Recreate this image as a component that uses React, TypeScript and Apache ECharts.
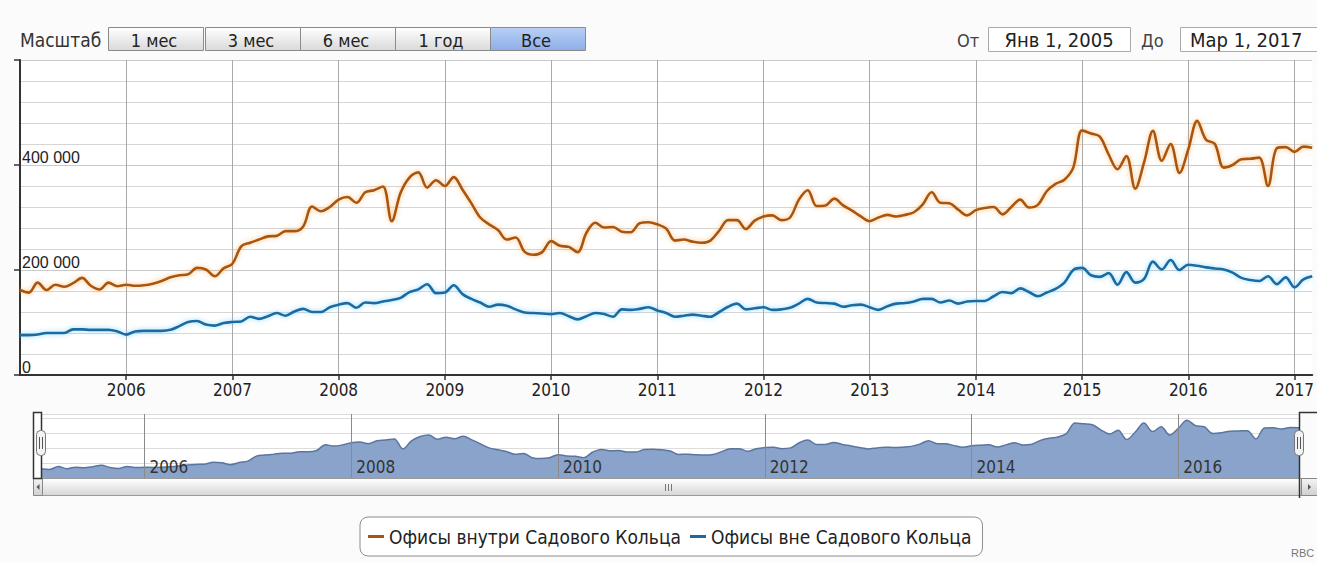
import React, { useEffect, useRef } from 'react';
import * as echarts from 'echarts';

// ---------- DATA ----------
const NAME_IN = 'Офисы внутри Садового Кольца';
const NAME_OUT = 'Офисы вне Садового Кольца';

// monthly categories Jan 2005 .. Mar 2017
const months: string[] = [];
for (let y = 2005; y <= 2017; y++) {
  for (let m = 1; m <= 12; m++) {
    if (y === 2017 && m > 3) break;
    months.push(`${y}-${m < 10 ? '0' + m : m}`);
  }
}

const yearTicks = ['2006', '2007', '2008', '2009', '2010', '2011', '2012', '2013', '2014', '2015', '2016', '2017'];
const navYearTicks = ['2006', '2008', '2010', '2012', '2014', '2016'];
const rangeButtons = ['1 мес', '3 мес', '6 мес', '1 год', 'Все'];

// values in thousands
const inside = [
  162, 157, 176, 162, 172, 168, 175, 185, 170, 163, 176, 169,
  172, 170, 171, 174, 179, 186, 190, 192, 204, 201, 188, 203,
  212, 245, 252, 258, 264, 265, 274, 274, 283, 321, 312, 320,
  334, 339, 328, 348, 352, 359, 293, 347, 376, 386, 357, 371,
  360, 377, 353, 327, 300, 287, 276, 258, 262, 235, 229, 234,
  255, 246, 244, 234, 271, 290, 281, 282, 273, 272, 289, 291,
  287, 279, 256, 258, 254, 252, 256, 275, 295, 295, 278, 294,
  302, 304, 295, 300, 334, 352, 322, 323, 336, 323, 313, 302,
  293, 300, 305, 302, 305, 310, 325, 348, 328, 327, 315, 304,
  314, 318, 320, 306, 320, 334, 319, 324, 350, 364, 372, 395,
  466, 460, 454, 420, 392, 417, 355, 405, 465, 408, 440, 385,
  430, 484, 448, 440, 395, 400, 411, 412, 414, 360, 432, 434,
  425, 435, 433,
];

const outside = [
  76, 76, 77, 80, 80, 80, 87, 87, 86, 86, 86, 83,
  77, 83, 84, 84, 84, 86, 93, 101, 103, 96, 94, 99,
  101, 102, 111, 107, 112, 118, 113, 121, 126, 120, 120, 129,
  134, 137, 128, 138, 137, 140, 143, 147, 158, 163, 173, 156,
  157, 171, 154, 145, 138, 130, 134, 132, 125, 119, 118, 117,
  116, 118, 112, 106, 112, 118, 116, 111, 125, 124, 126, 129,
  123, 118, 111, 113, 115, 113, 111, 120, 130, 136, 125, 127,
  129, 124, 125, 128, 136, 145, 138, 137, 136, 130, 133, 134,
  129, 124, 131, 136, 137, 140, 145, 145, 138, 142, 136, 140,
  141, 141, 150, 158, 156, 165, 158, 150, 157, 164, 176, 200,
  204, 190, 187, 194, 172, 196, 176, 183, 216, 201, 219, 200,
  210, 208, 205, 203, 201, 195, 185, 181, 179, 188, 173, 186,
  167, 182, 188,
];

// ---------- STYLE ----------
const NARROW = "'Liberation Sans Narrow', 'DejaVu Sans Condensed', 'Arial Narrow', 'Liberation Sans', sans-serif";
const ARIAL = "'Liberation Sans', Arial, sans-serif";
const ORANGE = '#aa550f';
const BLUE = '#1a6a9f';

const isYearTick = (_i: number, v: string) => v.endsWith('-01') && yearTicks.includes(v.slice(0, 4));
const isNavTick = (_i: number, v: string) => v.endsWith('-01') && navYearTicks.includes(v.slice(0, 4));

function buildGraphic() {
  const g: any[] = [];
  const grad = (a: string, b: string) =>
    new echarts.graphic.LinearGradient(0, 0, 0, 1, [
      { offset: 0, color: a },
      { offset: 1, color: b },
    ]);
  // range selector
  g.push({ type: 'text', x: 20, y: 40, style: { text: 'Масштаб', fill: '#333', font: `19px ${NARROW}`, verticalAlign: 'middle' } });
  const bx = [108, 205, 300, 395, 490];
  rangeButtons.forEach((t, i) => {
    const sel = i === rangeButtons.length - 1;
    g.push({
      type: 'rect',
      shape: { x: bx[i] + 0.5, y: 27.5, width: 95, height: 23 },
      style: { fill: sel ? grad('#b9d0f6', '#8eaee8') : grad('#ffffff', '#d9d9d9'), stroke: '#8a8a8a', lineWidth: 1 },
    });
    g.push({
      type: 'text',
      x: bx[i] + 46,
      y: 40,
      style: { text: t, fill: '#222', font: `18px ${NARROW}`, align: 'center', verticalAlign: 'middle' },
    });
  });
  // date inputs
  g.push({ type: 'text', x: 957, y: 40, style: { text: 'От', fill: '#444', font: `18px ${NARROW}`, verticalAlign: 'middle' } });
  g.push({ type: 'rect', shape: { x: 988.5, y: 27.5, width: 142, height: 24 }, style: { fill: '#fff', stroke: '#aaa' } });
  g.push({ type: 'text', x: 1059, y: 40, style: { text: 'Янв 1, 2005', fill: '#222', font: `20px ${NARROW}`, align: 'center', verticalAlign: 'middle' } });
  g.push({ type: 'text', x: 1141, y: 40, style: { text: 'До', fill: '#444', font: `18px ${NARROW}`, verticalAlign: 'middle' } });
  g.push({ type: 'rect', shape: { x: 1180.5, y: 27.5, width: 150, height: 24 }, style: { fill: '#fff', stroke: '#aaa' } });
  g.push({ type: 'text', x: 1190, y: 40, style: { text: 'Мар 1, 2017', fill: '#222', font: `20px ${NARROW}`, verticalAlign: 'middle' } });

  // scrollbar
  g.push({ type: 'rect', shape: { x: 33.5, y: 478.5, width: 1290, height: 17 }, style: { fill: grad('#ffffff', '#d6d6d6'), stroke: '#9a9a9a' }, z: 10 });
  g.push({ type: 'rect', shape: { x: 33.5, y: 478.5, width: 9, height: 17 }, style: { fill: grad('#f4f4f4', '#cfcfcf'), stroke: '#888' }, z: 11 });
  g.push({ type: 'polygon', shape: { points: [[39.5, 484], [39.5, 490], [36.5, 487]] }, style: { fill: '#555' }, z: 12 });
  g.push({ type: 'rect', shape: { x: 1301.5, y: 478.5, width: 20, height: 17 }, style: { fill: grad('#f4f4f4', '#cfcfcf'), stroke: '#888' }, z: 11 });
  g.push({ type: 'polygon', shape: { points: [[1308, 484], [1308, 490], [1311, 487]] }, style: { fill: '#555' }, z: 12 });
  [665.5, 668.5, 671.5].forEach((x) =>
    g.push({ type: 'line', shape: { x1: x, y1: 484, x2: x, y2: 491 }, style: { stroke: '#777', lineWidth: 1 }, z: 12 })
  );

  // navigator outline and handles
  g.push({ type: 'rect', shape: { x: 33.5, y: 412.5, width: 8, height: 66 }, style: { fill: '#fff', stroke: '#333', lineWidth: 1.5 }, z: 13 });
  g.push({ type: 'polyline', shape: { points: [[1320, 412.5], [1299.5, 412.5], [1299.5, 498]] }, style: { stroke: '#333', lineWidth: 1.5, fill: 'none' }, z: 13 });
  [41, 1299].forEach((cx) => {
    g.push({ type: 'rect', shape: { x: cx - 4.5, y: 430.5, width: 9, height: 25, r: 4 }, style: { fill: '#f3f3f3', stroke: '#777' }, z: 14 });
    g.push({ type: 'line', shape: { x1: cx - 1.5, y1: 437, x2: cx - 1.5, y2: 449 }, style: { stroke: '#555' }, z: 15 });
    g.push({ type: 'line', shape: { x1: cx + 1.5, y1: 437, x2: cx + 1.5, y2: 449 }, style: { stroke: '#555' }, z: 15 });
  });

  // credit
  g.push({ type: 'text', x: 1291, y: 547, style: { text: 'RBC', fill: '#777', font: `11px ${ARIAL}` } });
  return g;
}

export default function App() {
  const ref = useRef<HTMLDivElement>(null);
  useEffect(() => {
    const chart = echarts.init(ref.current!, null, { renderer: 'svg' });
    const option: any = {
      animation: false,
      backgroundColor: '#fbfbfb',
      grid: [
        { left: 20, right: 0, top: 60, height: 315, show: true, backgroundColor: '#ffffff', borderWidth: 0 },
        { left: 41, width: 1258, top: 414, height: 64, show: true, backgroundColor: '#ffffff', borderWidth: 0 },
      ],
      legend: {
        data: [NAME_IN, NAME_OUT],
        left: 360,
        top: 517,
        icon: 'rect',
        itemWidth: 16,
        itemHeight: 3,
        itemGap: 9,
        padding: [10, 11, 10, 8],
        borderColor: '#8c8c8c',
        borderWidth: 1,
        borderRadius: 8,
        backgroundColor: '#ffffff',
        textStyle: { fontSize: 19, color: '#222', fontFamily: NARROW },
      },
      xAxis: [
        {
          type: 'category',
          gridIndex: 0,
          data: months,
          boundaryGap: false,
          axisLine: { show: true, lineStyle: { color: '#333', width: 2 } },
          axisTick: { show: true, interval: isYearTick, length: 5, lineStyle: { color: '#333', width: 1.5 } },
          axisLabel: { interval: isYearTick, formatter: (v: string) => v.slice(0, 4), color: '#222', fontSize: 17, margin: 6, fontFamily: NARROW },
          splitLine: { show: true, interval: isYearTick, lineStyle: { color: '#a9a9a9', width: 1 } },
        },
        {
          type: 'category',
          gridIndex: 1,
          data: months,
          boundaryGap: false,
          z: 10,
          axisLine: { show: false },
          axisTick: { show: false },
          axisLabel: {
            inside: true,
            interval: isNavTick,
            formatter: (v: string) => v.slice(0, 4),
            align: 'left',
            padding: [0, 0, 0, 5],
            margin: 3,
            color: '#333',
            fontSize: 17,
            fontFamily: NARROW,
          },
          splitLine: { show: true, interval: isNavTick, lineStyle: { color: '#8a8a8a', width: 1 } },
        },
      ],
      yAxis: [
        {
          type: 'value',
          gridIndex: 0,
          min: 0,
          max: 600,
          interval: 200,
          axisLine: { show: true, lineStyle: { color: '#333', width: 2 } },
          axisTick: { show: true, inside: false, length: 6, lineStyle: { color: '#333', width: 1.5 } },
          axisLabel: {
            inside: true,
            margin: 2,
            verticalAlign: 'bottom',
            color: '#222',
            fontSize: 16,
            fontFamily: ARIAL,
            formatter: (v: number) => (v === 600 ? '' : v === 0 ? '0' : `${v} 000`),
          },
          splitLine: { show: true, lineStyle: { color: '#c9c9c9', width: 1 } },
          minorTick: { show: false, splitNumber: 5 },
          minorSplitLine: { show: true, lineStyle: { color: '#d6d6d6', width: 1 } },
        },
        {
          type: 'value',
          gridIndex: 1,
          min: 100,
          max: 525,
          interval: 100,
          axisLine: { show: false },
          axisTick: { show: false },
          axisLabel: { show: false },
          splitLine: { show: true, lineStyle: { color: '#dcdcdc', width: 1 } },
        },
      ],
      series: [
        {
          name: NAME_IN,
          type: 'line',
          xAxisIndex: 0,
          yAxisIndex: 0,
          data: inside,
          symbol: 'none',
          smooth: 0.35,
          lineStyle: { color: ORANGE, width: 2.6, shadowColor: 'rgba(245,165,70,0.7)', shadowBlur: 5 },
          itemStyle: { color: ORANGE },
          z: 3,
        },
        {
          name: NAME_OUT,
          type: 'line',
          xAxisIndex: 0,
          yAxisIndex: 0,
          data: outside,
          symbol: 'none',
          smooth: 0.35,
          lineStyle: { color: BLUE, width: 2.6, shadowColor: 'rgba(90,200,250,0.7)', shadowBlur: 5 },
          itemStyle: { color: BLUE },
          z: 3,
        },
        {
          name: 'navigator',
          type: 'line',
          xAxisIndex: 1,
          yAxisIndex: 1,
          data: inside,
          symbol: 'none',
          smooth: 0.35,
          lineStyle: { color: '#5a759f', width: 1.5 },
          areaStyle: { color: '#8aa3ca', opacity: 1 },
          z: 2,
        },
      ],
      graphic: buildGraphic(),
    };
    chart.setOption(option);
    return () => chart.dispose();
  }, []);
  return <div ref={ref} style={{ position: 'fixed', left: 0, top: 0, width: 1317, height: 563 }} />;
}
